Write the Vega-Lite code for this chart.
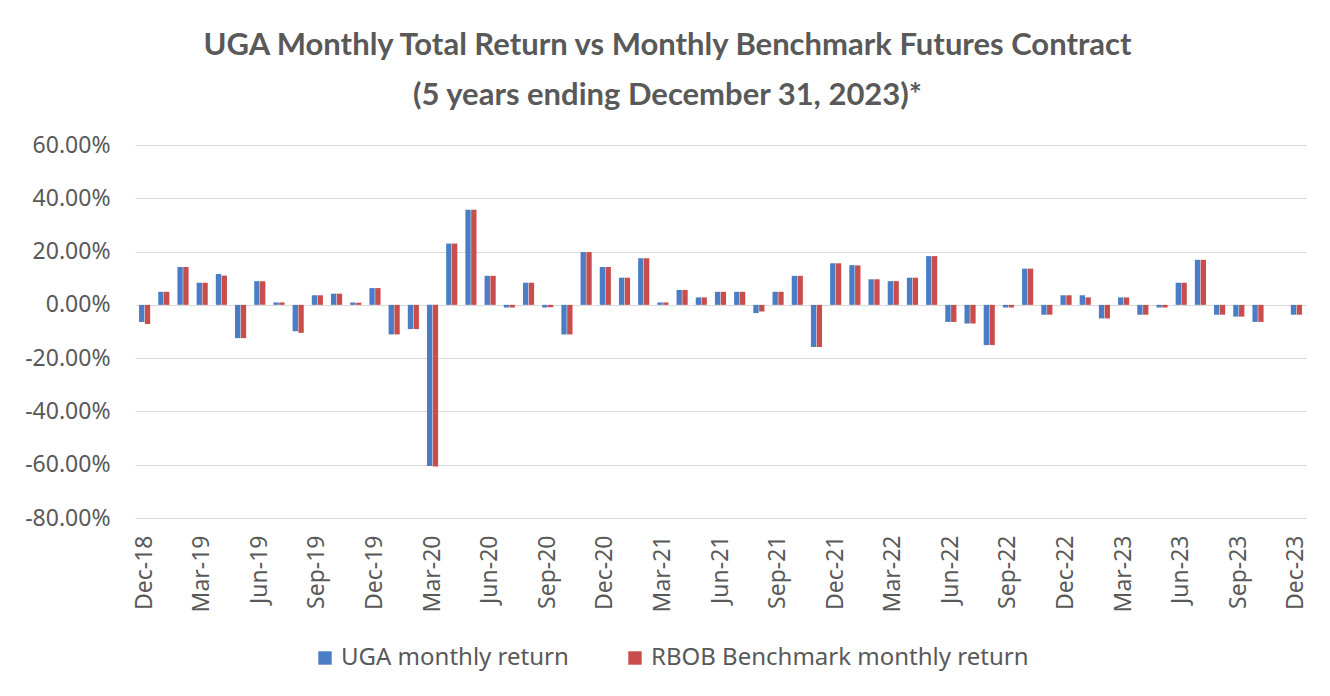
{
  "$schema": "https://vega.github.io/schema/vega-lite/v6.json",
  "width": 1171,
  "height": 373,
  "autosize": {"type": "none"},
  "padding": {"left": 135, "top": 145, "right": 24, "bottom": 178},
  "background": "white",
  "title": {
    "text": ["UGA Monthly Total Return vs Monthly Benchmark Futures Contract", "(5 years ending December 31, 2023)*"],
    "anchor": "middle",
    "frame": "group",
    "dx": -53,
    "offset": 22,
    "font": "Lato",
    "fontSize": 31,
    "fontWeight": "bold",
    "color": "#595959",
    "lineHeight": 50
  },
  "data": {
    "values": [
      {"month": "Dec-18", "series": "UGA monthly return", "value": -0.064}, {"month": "Dec-18", "series": "RBOB Benchmark monthly return", "value": -0.072},
      {"month": "Jan-19", "series": "UGA monthly return", "value": 0.049}, {"month": "Jan-19", "series": "RBOB Benchmark monthly return", "value": 0.049},
      {"month": "Feb-19", "series": "UGA monthly return", "value": 0.142}, {"month": "Feb-19", "series": "RBOB Benchmark monthly return", "value": 0.142},
      {"month": "Mar-19", "series": "UGA monthly return", "value": 0.083}, {"month": "Mar-19", "series": "RBOB Benchmark monthly return", "value": 0.083},
      {"month": "Apr-19", "series": "UGA monthly return", "value": 0.116}, {"month": "Apr-19", "series": "RBOB Benchmark monthly return", "value": 0.110},
      {"month": "May-19", "series": "UGA monthly return", "value": -0.125}, {"month": "May-19", "series": "RBOB Benchmark monthly return", "value": -0.125},
      {"month": "Jun-19", "series": "UGA monthly return", "value": 0.089}, {"month": "Jun-19", "series": "RBOB Benchmark monthly return", "value": 0.089},
      {"month": "Jul-19", "series": "UGA monthly return", "value": 0.009}, {"month": "Jul-19", "series": "RBOB Benchmark monthly return", "value": 0.009},
      {"month": "Aug-19", "series": "UGA monthly return", "value": -0.099}, {"month": "Aug-19", "series": "RBOB Benchmark monthly return", "value": -0.105},
      {"month": "Sep-19", "series": "UGA monthly return", "value": 0.036}, {"month": "Sep-19", "series": "RBOB Benchmark monthly return", "value": 0.036},
      {"month": "Oct-19", "series": "UGA monthly return", "value": 0.042}, {"month": "Oct-19", "series": "RBOB Benchmark monthly return", "value": 0.042},
      {"month": "Nov-19", "series": "UGA monthly return", "value": 0.009}, {"month": "Nov-19", "series": "RBOB Benchmark monthly return", "value": 0.008},
      {"month": "Dec-19", "series": "UGA monthly return", "value": 0.063}, {"month": "Dec-19", "series": "RBOB Benchmark monthly return", "value": 0.063},
      {"month": "Jan-20", "series": "UGA monthly return", "value": -0.111}, {"month": "Jan-20", "series": "RBOB Benchmark monthly return", "value": -0.111},
      {"month": "Feb-20", "series": "UGA monthly return", "value": -0.091}, {"month": "Feb-20", "series": "RBOB Benchmark monthly return", "value": -0.091},
      {"month": "Mar-20", "series": "UGA monthly return", "value": -0.605}, {"month": "Mar-20", "series": "RBOB Benchmark monthly return", "value": -0.607},
      {"month": "Apr-20", "series": "UGA monthly return", "value": 0.230}, {"month": "Apr-20", "series": "RBOB Benchmark monthly return", "value": 0.230},
      {"month": "May-20", "series": "UGA monthly return", "value": 0.357}, {"month": "May-20", "series": "RBOB Benchmark monthly return", "value": 0.357},
      {"month": "Jun-20", "series": "UGA monthly return", "value": 0.109}, {"month": "Jun-20", "series": "RBOB Benchmark monthly return", "value": 0.109},
      {"month": "Jul-20", "series": "UGA monthly return", "value": -0.010}, {"month": "Jul-20", "series": "RBOB Benchmark monthly return", "value": -0.010},
      {"month": "Aug-20", "series": "UGA monthly return", "value": 0.083}, {"month": "Aug-20", "series": "RBOB Benchmark monthly return", "value": 0.083},
      {"month": "Sep-20", "series": "UGA monthly return", "value": -0.010}, {"month": "Sep-20", "series": "RBOB Benchmark monthly return", "value": -0.009},
      {"month": "Oct-20", "series": "UGA monthly return", "value": -0.111}, {"month": "Oct-20", "series": "RBOB Benchmark monthly return", "value": -0.111},
      {"month": "Nov-20", "series": "UGA monthly return", "value": 0.198}, {"month": "Nov-20", "series": "RBOB Benchmark monthly return", "value": 0.198},
      {"month": "Dec-20", "series": "UGA monthly return", "value": 0.142}, {"month": "Dec-20", "series": "RBOB Benchmark monthly return", "value": 0.142},
      {"month": "Jan-21", "series": "UGA monthly return", "value": 0.102}, {"month": "Jan-21", "series": "RBOB Benchmark monthly return", "value": 0.102},
      {"month": "Feb-21", "series": "UGA monthly return", "value": 0.175}, {"month": "Feb-21", "series": "RBOB Benchmark monthly return", "value": 0.175},
      {"month": "Mar-21", "series": "UGA monthly return", "value": 0.009}, {"month": "Mar-21", "series": "RBOB Benchmark monthly return", "value": 0.009},
      {"month": "Apr-21", "series": "UGA monthly return", "value": 0.056}, {"month": "Apr-21", "series": "RBOB Benchmark monthly return", "value": 0.056},
      {"month": "May-21", "series": "UGA monthly return", "value": 0.028}, {"month": "May-21", "series": "RBOB Benchmark monthly return", "value": 0.028},
      {"month": "Jun-21", "series": "UGA monthly return", "value": 0.049}, {"month": "Jun-21", "series": "RBOB Benchmark monthly return", "value": 0.049},
      {"month": "Jul-21", "series": "UGA monthly return", "value": 0.049}, {"month": "Jul-21", "series": "RBOB Benchmark monthly return", "value": 0.049},
      {"month": "Aug-21", "series": "UGA monthly return", "value": -0.031}, {"month": "Aug-21", "series": "RBOB Benchmark monthly return", "value": -0.025},
      {"month": "Sep-21", "series": "UGA monthly return", "value": 0.049}, {"month": "Sep-21", "series": "RBOB Benchmark monthly return", "value": 0.049},
      {"month": "Oct-21", "series": "UGA monthly return", "value": 0.109}, {"month": "Oct-21", "series": "RBOB Benchmark monthly return", "value": 0.109},
      {"month": "Nov-21", "series": "UGA monthly return", "value": -0.158}, {"month": "Nov-21", "series": "RBOB Benchmark monthly return", "value": -0.158},
      {"month": "Dec-21", "series": "UGA monthly return", "value": 0.156}, {"month": "Dec-21", "series": "RBOB Benchmark monthly return", "value": 0.156},
      {"month": "Jan-22", "series": "UGA monthly return", "value": 0.149}, {"month": "Jan-22", "series": "RBOB Benchmark monthly return", "value": 0.148},
      {"month": "Feb-22", "series": "UGA monthly return", "value": 0.096}, {"month": "Feb-22", "series": "RBOB Benchmark monthly return", "value": 0.096},
      {"month": "Mar-22", "series": "UGA monthly return", "value": 0.089}, {"month": "Mar-22", "series": "RBOB Benchmark monthly return", "value": 0.089},
      {"month": "Apr-22", "series": "UGA monthly return", "value": 0.102}, {"month": "Apr-22", "series": "RBOB Benchmark monthly return", "value": 0.102},
      {"month": "May-22", "series": "UGA monthly return", "value": 0.183}, {"month": "May-22", "series": "RBOB Benchmark monthly return", "value": 0.183},
      {"month": "Jun-22", "series": "UGA monthly return", "value": -0.064}, {"month": "Jun-22", "series": "RBOB Benchmark monthly return", "value": -0.064},
      {"month": "Jul-22", "series": "UGA monthly return", "value": -0.070}, {"month": "Jul-22", "series": "RBOB Benchmark monthly return", "value": -0.070},
      {"month": "Aug-22", "series": "UGA monthly return", "value": -0.151}, {"month": "Aug-22", "series": "RBOB Benchmark monthly return", "value": -0.151},
      {"month": "Sep-22", "series": "UGA monthly return", "value": -0.010}, {"month": "Sep-22", "series": "RBOB Benchmark monthly return", "value": -0.010},
      {"month": "Oct-22", "series": "UGA monthly return", "value": 0.136}, {"month": "Oct-22", "series": "RBOB Benchmark monthly return", "value": 0.136},
      {"month": "Nov-22", "series": "UGA monthly return", "value": -0.037}, {"month": "Nov-22", "series": "RBOB Benchmark monthly return", "value": -0.037},
      {"month": "Dec-22", "series": "UGA monthly return", "value": 0.036}, {"month": "Dec-22", "series": "RBOB Benchmark monthly return", "value": 0.036},
      {"month": "Jan-23", "series": "UGA monthly return", "value": 0.036}, {"month": "Jan-23", "series": "RBOB Benchmark monthly return", "value": 0.028},
      {"month": "Feb-23", "series": "UGA monthly return", "value": -0.051}, {"month": "Feb-23", "series": "RBOB Benchmark monthly return", "value": -0.051},
      {"month": "Mar-23", "series": "UGA monthly return", "value": 0.028}, {"month": "Mar-23", "series": "RBOB Benchmark monthly return", "value": 0.028},
      {"month": "Apr-23", "series": "UGA monthly return", "value": -0.037}, {"month": "Apr-23", "series": "RBOB Benchmark monthly return", "value": -0.037},
      {"month": "May-23", "series": "UGA monthly return", "value": -0.010}, {"month": "May-23", "series": "RBOB Benchmark monthly return", "value": -0.010},
      {"month": "Jun-23", "series": "UGA monthly return", "value": 0.083}, {"month": "Jun-23", "series": "RBOB Benchmark monthly return", "value": 0.083},
      {"month": "Jul-23", "series": "UGA monthly return", "value": 0.169}, {"month": "Jul-23", "series": "RBOB Benchmark monthly return", "value": 0.169},
      {"month": "Aug-23", "series": "UGA monthly return", "value": -0.037}, {"month": "Aug-23", "series": "RBOB Benchmark monthly return", "value": -0.037},
      {"month": "Sep-23", "series": "UGA monthly return", "value": -0.044}, {"month": "Sep-23", "series": "RBOB Benchmark monthly return", "value": -0.044},
      {"month": "Oct-23", "series": "UGA monthly return", "value": -0.064}, {"month": "Oct-23", "series": "RBOB Benchmark monthly return", "value": -0.064},
      {"month": "Nov-23", "series": "UGA monthly return", "value": 0.0}, {"month": "Nov-23", "series": "RBOB Benchmark monthly return", "value": 0.0},
      {"month": "Dec-23", "series": "UGA monthly return", "value": -0.037}, {"month": "Dec-23", "series": "RBOB Benchmark monthly return", "value": -0.037}
    ]
  },
  "mark": {"type": "bar"},
  "encoding": {
    "x": {
      "field": "month",
      "type": "ordinal",
      "sort": null,
      "scale": {"paddingInner": 0.42, "paddingOuter": 0.21},
      "axis": {
        "title": null,
        "values": ["Dec-18", "Mar-19", "Jun-19", "Sep-19", "Dec-19", "Mar-20", "Jun-20", "Sep-20", "Dec-20", "Mar-21", "Jun-21", "Sep-21", "Dec-21", "Mar-22", "Jun-22", "Sep-22", "Dec-22", "Mar-23", "Jun-23", "Sep-23", "Dec-23"],
        "labelAngle": -90,
        "labelFont": "Noto Sans",
        "labelFontSize": 23,
        "labelColor": "#595959",
        "labelPadding": 17,
        "domain": false,
        "ticks": false,
        "grid": false
      }
    },
    "xOffset": {
      "field": "series",
      "type": "nominal",
      "sort": ["UGA monthly return", "RBOB Benchmark monthly return"],
      "scale": {"paddingInner": 0.08}
    },
    "y": {
      "field": "value",
      "type": "quantitative",
      "scale": {"domain": [-0.8, 0.6], "nice": false, "zero": true},
      "axis": {
        "title": null,
        "values": [-0.8, -0.6, -0.4, -0.2, 0, 0.2, 0.4, 0.6],
        "format": ".2%",
        "labelExpr": "replace(datum.label, '\u2212', '-')",
        "labelFont": "Noto Sans",
        "labelFontSize": 23,
        "labelColor": "#595959",
        "labelPadding": 25,
        "domain": false,
        "ticks": false,
        "grid": true,
        "gridColor": "#D9D9D9",
        "gridWidth": 1
      }
    },
    "color": {
      "field": "series",
      "type": "nominal",
      "scale": {
        "domain": ["UGA monthly return", "RBOB Benchmark monthly return"],
        "range": ["#4A7DC5", "#C84D4B"]
      },
      "legend": {
        "orient": "none",
        "legendX": 178,
        "legendY": 501,
        "direction": "horizontal",
        "title": null,
        "symbolType": "square",
        "symbolSize": 180,
        "symbolStrokeWidth": 0,
        "labelFont": "Noto Sans",
        "labelFontSize": 24,
        "labelColor": "#595959",
        "labelOffset": 4,
        "columnPadding": 54,
        "labelLimit": 600
      }
    }
  },
  "config": {"view": {"stroke": null}}
}
